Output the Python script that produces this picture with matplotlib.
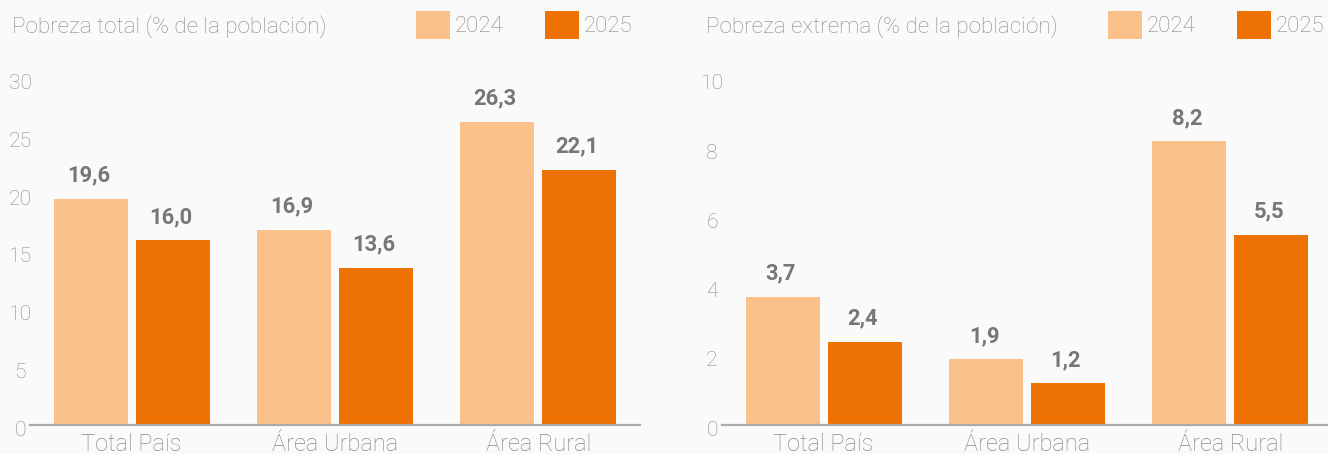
import matplotlib.pyplot as plt
import matplotlib.transforms as mtransforms
import numpy as np

# Data
categories = ["Total País", "Área Urbana", "Área Rural"]
years = ["2024", "2025"]
pobreza_total_2024 = [19.6, 16.9, 26.3]
pobreza_total_2025 = [16.0, 13.6, 22.1]
pobreza_extrema_2024 = [3.7, 1.9, 8.2]
pobreza_extrema_2025 = [2.4, 1.2, 5.5]
total_ticks = [0, 5, 10, 15, 20, 25, 30]
extrema_ticks = [0, 2, 4, 6, 8, 10]

# Style
BG = "#fafafa"
C_LIGHT = "#fac28a"
C_DARK = "#ee7203"
TXT = "#8a8a8a"
VAL = "#777777"
AXIS = "#aaaaaa"
FONT = "Roboto"

plt.rcParams["font.family"] = [FONT, "DejaVu Sans"]

W, H = 1328, 454
fig = plt.figure(figsize=(W / 100, H / 100), dpi=100, facecolor=BG)


def px_box(x0, y_top, x1, y_bot):
    return [x0 / W, 1 - y_bot / H, (x1 - x0) / W, (y_bot - y_top) / H]


def fmt(v):
    return f"{v:.1f}".replace(".", ",")


def panel(rect, s2024, s2025, ticks, title, title_x, legend_x):
    ax = fig.add_axes(rect, facecolor=BG)
    x = np.arange(len(categories))
    bw = 0.364
    off = 0.2015
    b1 = ax.bar(x - off, s2024, bw, color=C_LIGHT, label=years[0], zorder=2)
    b2 = ax.bar(x + off, s2025, bw, color=C_DARK, label=years[1], zorder=2)
    for bars, vals in ((b1, s2024), (b2, s2025)):
        for rect_, v in zip(bars, vals):
            ax.annotate(fmt(v), xy=(rect_.get_x() + rect_.get_width() / 2, v),
                        xytext=(-1.5, 12.5), textcoords="offset points",
                        ha="center", va="baseline", fontsize=15.8,
                        fontweight="semibold", color=VAL)
    ax.set_xlim(-0.5, 2.5)
    ax.set_ylim(ticks[0], ticks[-1])
    ax.set_yticks(ticks)
    ax.set_xticks(x)
    ax.tick_params(axis="y", length=0, pad=7.2)
    ax.tick_params(axis="x", length=0, pad=5.5)
    ax.set_yticklabels([str(t) for t in ticks], ha="center",
                       fontsize=15.2, color=TXT, fontweight="light")
    ax.set_xticklabels(categories, fontsize=17, color=TXT, fontweight="light")
    # y labels sit a few pixels below their value
    shift = mtransforms.ScaledTranslation(0, -3 / 100, fig.dpi_scale_trans)
    for tick in ax.yaxis.get_major_ticks():
        tick.label1.set_transform(tick.label1.get_transform() + shift)
    for s in ("top", "right", "left"):
        ax.spines[s].set_visible(False)
    ax.spines["bottom"].set_color(AXIS)
    ax.spines["bottom"].set_linewidth(1.6)
    ax.spines["bottom"].set_zorder(3)

    fig.text(title_x / W, 1 - 27 / H, title, ha="left", va="center",
             fontsize=16.2, color=TXT, fontweight="light")
    leg = fig.legend(handles=[b1, b2], loc="upper left",
                     bbox_to_anchor=(legend_x / W, 1 - 11 / H),
                     ncol=2, frameon=False, fontsize=16,
                     handlelength=1.53, handleheight=1.53, handletextpad=0.23,
                     columnspacing=1.85, borderpad=0, borderaxespad=0)
    for t in leg.get_texts():
        t.set_color(TXT)
        t.set_fontweight("light")
    return ax


panel(px_box(30, 79, 640, 425), pobreza_total_2024, pobreza_total_2025,
      total_ticks, "Pobreza total (% de la población)", 12, 416)
panel(px_box(722, 79, 1332, 425), pobreza_extrema_2024, pobreza_extrema_2025,
      extrema_ticks, "Pobreza extrema (% de la población)", 706, 1108)

fig.savefig("out.png", dpi=100, facecolor=BG)
